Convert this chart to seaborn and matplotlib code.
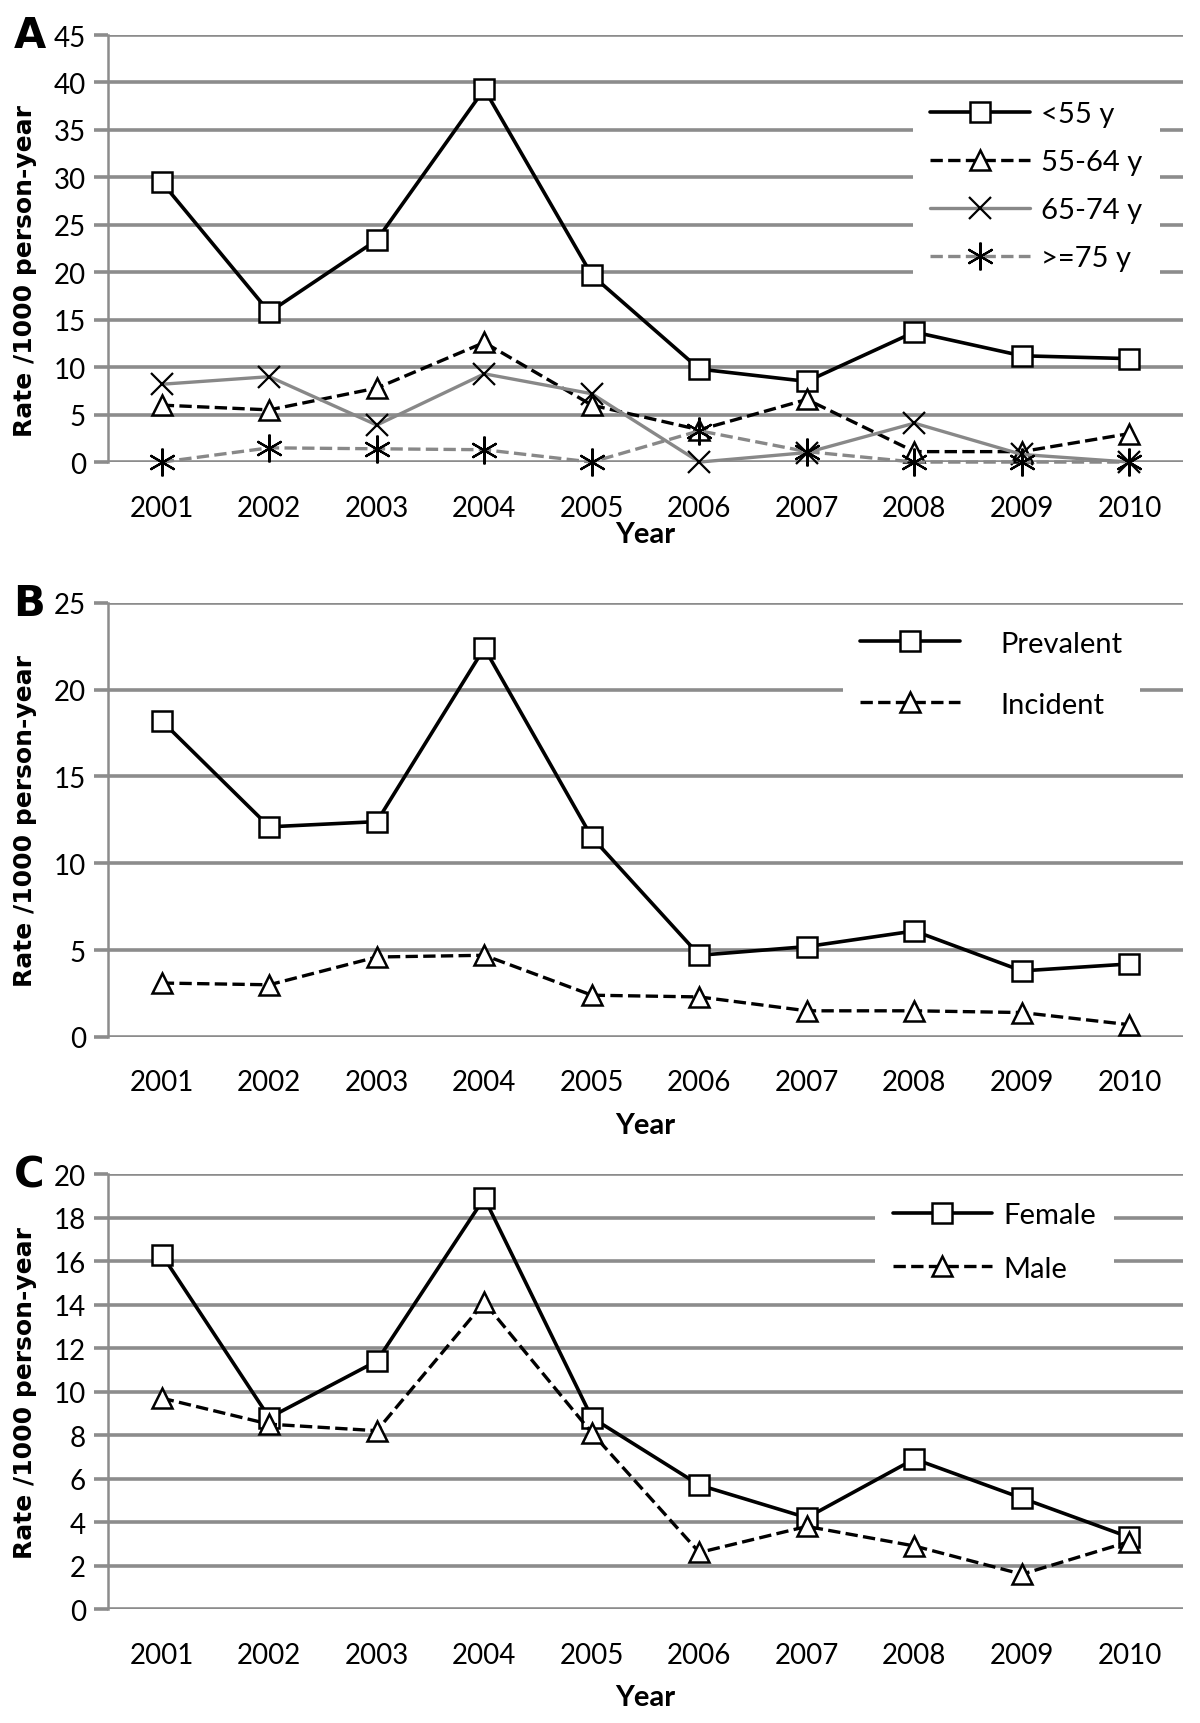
import matplotlib
matplotlib.use("Agg")
import matplotlib.pyplot as plt
import seaborn as sns
import pandas as pd

# data
years = [2001, 2002, 2003, 2004, 2005, 2006, 2007, 2008, 2009, 2010]

age_lt55 = [29.5, 15.8, 23.4, 39.3, 19.7, 9.8, 8.5, 13.7, 11.2, 10.9]
age_55_64 = [6.0, 5.5, 7.8, 12.6, 6.0, 3.4, 6.6, 1.1, 1.1, 3.0]
age_65_74 = [8.2, 9.0, 3.9, 9.3, 7.2, 0.0, 1.0, 4.1, 0.8, 0.0]
age_ge75 = [0.0, 1.5, 1.4, 1.3, 0.0, 3.3, 1.1, 0.0, 0.0, 0.0]

prevalent = [18.2, 12.1, 12.4, 22.4, 11.5, 4.7, 5.2, 6.1, 3.8, 4.2]
incident = [3.1, 3.0, 4.6, 4.7, 2.4, 2.3, 1.5, 1.5, 1.4, 0.7]

female = [16.3, 8.8, 11.4, 18.9, 8.8, 5.7, 4.2, 6.9, 5.1, 3.3]
male = [9.7, 8.5, 8.2, 14.1, 8.1, 2.6, 3.8, 2.9, 1.6, 3.1]

sns.set_style("white")
plt.rcParams['font.family'] = ['Lato', 'DejaVu Sans']
plt.rcParams['text.color'] = 'black'
plt.rcParams['xtick.color'] = 'black'
plt.rcParams['ytick.color'] = 'black'
plt.rcParams['axes.labelcolor'] = 'black'

GRID = "#8c8c8c"
GREY = "#888888"
ASTER = (6, 2, 0)

panels = [
    dict(letter="A", ymax=45, step=5, pos=[0.09, 0.7314, 0.896, 0.2477],
         series=[("<55 y", age_lt55, "black", "-", "s"),
                 ("55-64 y", age_55_64, "black", "--", "^"),
                 ("65-74 y", age_65_74, GREY, "-", "x"),
                 (">=75 y", age_ge75, GREY, "--", ASTER)],
         legend=dict(loc="upper left", bbox_to_anchor=(0.735, 0.92), labelspacing=0.75,
                     handletextpad=0.4),
         xlabel_pad=0, ylab_y=0.45),
    dict(letter="B", ymax=25, step=5, pos=[0.09, 0.398, 0.896, 0.2517],
         series=[("Prevalent", prevalent, "black", "-", "s"),
                 ("Incident", incident, "black", "--", "^")],
         legend=dict(loc="upper left", bbox_to_anchor=(0.67, 1.01), labelspacing=1.2,
                     handletextpad=1.4),
         xlabel_pad=12, ylab_y=0.5),
    dict(letter="C", ymax=20, step=2, pos=[0.09, 0.0661, 0.896, 0.2523],
         series=[("Female", female, "black", "-", "s"),
                 ("Male", male, "black", "--", "^")],
         legend=dict(loc="upper left", bbox_to_anchor=(0.70, 1.01), labelspacing=0.95,
                     handletextpad=0.4),
         xlabel_pad=12, ylab_y=0.5),
]

fig = plt.figure(figsize=(12, 17.24), dpi=100)

for p in panels:
    ax = fig.add_axes(p["pos"])
    for label, vals, color, ls, mk in p["series"]:
        df = pd.DataFrame({"Year": years, "Rate": vals})
        lw = 2.6 if color == "black" and ls == "-" else 2.4
        if mk in ("s", "^"):
            ms, mew = 15, 1.8
        elif mk == "x":
            ms, mew = 16, 1.6
        else:
            ms, mew = 20, 1.6
        sns.lineplot(data=df, x="Year", y="Rate", ax=ax, color=color, linestyle=ls,
                     linewidth=lw, marker=mk, markersize=ms,
                     markerfacecolor="white" if mk in ("s", "^") else "black",
                     markeredgecolor="black", markeredgewidth=mew, label=label,
                     zorder=3, clip_on=False)
    ax.set_xlim(2000.5, 2010.5)
    ax.set_ylim(0, p["ymax"])
    ax.set_yticks(range(0, p["ymax"] + 1, p["step"]))
    ax.set_xticks(years)
    ax.set_xticklabels([str(y) for y in years])
    ax.yaxis.grid(True, color=GRID, linewidth=2.6)
    ax.xaxis.grid(False)
    ax.set_axisbelow(True)
    for s in ["top", "right", "bottom"]:
        ax.spines[s].set_visible(False)
    ax.spines["left"].set_color(GRID)
    ax.spines["left"].set_linewidth(1.8)
    ax.tick_params(axis="y", left=True, length=10, width=2.6, color=GRID,
                   labelsize=20, pad=6)
    ax.tick_params(axis="x", bottom=False, labelsize=20, pad=20)
    ax.set_xlabel("Year", fontsize=21, fontweight="bold", labelpad=p["xlabel_pad"])
    ax.set_ylabel("Rate /1000 person-year", fontsize=18, fontweight="bold",
                  family="DejaVu Sans")
    ax.yaxis.set_label_coords(-0.066, p["ylab_y"])
    ax.text(-0.088, 1.0, p["letter"], transform=ax.transAxes, fontsize=30,
            fontweight="bold", ha="left", va="center", family="DejaVu Sans")
    leg = ax.legend(frameon=True, fontsize=21, handlelength=3.4, borderpad=0.6,
                    **p["legend"])
    leg.get_frame().set_edgecolor("none")
    leg.get_frame().set_facecolor("white")
    leg.get_frame().set_alpha(1)

fig.savefig("out.png", dpi=100)
